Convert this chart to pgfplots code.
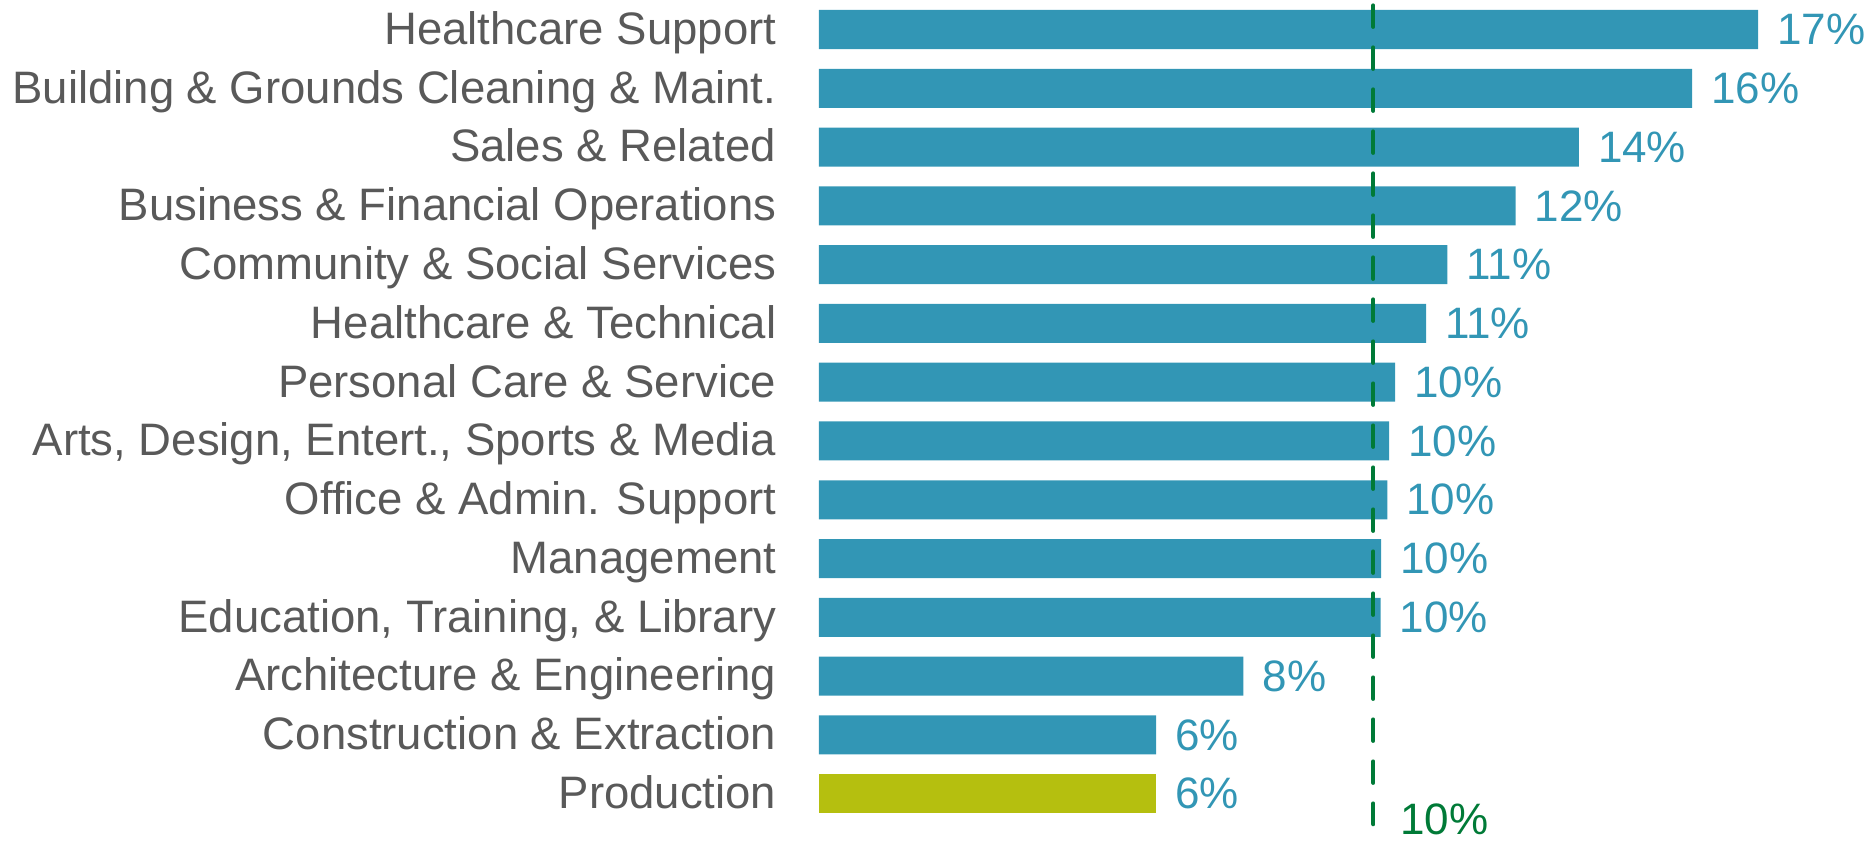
\documentclass[border=0pt]{standalone}
\usepackage{pgfplots}
\pgfplotsset{compat=1.18}
\usepackage{pgfplotstable}
\usepackage{fontspec}
\setmainfont{Liberation Sans}
\definecolor{barteal}{RGB}{50,150,181}
\definecolor{barolive}{RGB}{181,191,15}
\definecolor{avggreen}{RGB}{0,122,55}
\definecolor{labgray}{RGB}{89,89,89}

\pgfplotstableread{
idx val lab
0  16.77 17
1  15.59 16
2  13.57 14
3  12.44 12
4  11.22 11
5  10.84 11
6  10.29 10
7  10.18 10
8  10.15 10
9  10.04 10
10 10.03 10
11 7.58  8
12 6.02  6
}\maintab
\pgfplotstableread{
idx val lab
13 6.02 6
}\prodtab

\begin{document}
\begin{tikzpicture}
\begin{axis}[
  name=ax,
  scale only axis,
  width=518pt, height=412.95pt,
  xmin=0, xmax=18.5,
  ymin=-0.5, ymax=13.55,
  y dir=reverse,
  xbar, bar width=19.5pt, bar shift=0pt,
  axis line style={draw=none},
  major tick length=0pt,
  xtick=\empty,
  ytick={0,...,13},
  yticklabels={Healthcare Support, Building \& Grounds Cleaning \& Maint., Sales \& Related, Business \& Financial Operations, Community \& Social Services, Healthcare \& Technical, Personal Care \& Service, {Arts, Design, Entert., Sports \& Media}, Office \& Admin. Support, Management, {Education, Training, \& Library}, Architecture \& Engineering, Construction \& Extraction, Production},
  yticklabel style={anchor=base east, inner sep=0pt, xshift=-21.15pt, yshift=-7.4pt, font=\fontsize{22.75pt}{27pt}\selectfont, text=labgray},
  clip=false,
  point meta=explicit symbolic,
  nodes near coords={\pgfplotspointmeta\%},
  every node near coord/.append style={anchor=west, inner sep=0pt, xshift=9.35pt, font=\fontsize{22pt}{26pt}\selectfont, text=barteal},
]
\addplot[fill=barteal, draw=none] table[x=val, y=idx, meta=lab] {\maintab};
\addplot[fill=barolive, draw=none] table[x=val, y=idx, meta=lab] {\prodtab};
\addplot[xbar=false, sharp plot, nodes near coords={}, draw=avggreen, line width=2pt, dash pattern=on 10.75pt off 10.25pt, line cap=round] coordinates {(9.90,-0.41) (9.90,13.52)};
\node[anchor=base west, inner sep=0pt, text=avggreen, font=\fontsize{22pt}{26pt}\selectfont] at (axis cs:10.375,13.69) {10\%};
\end{axis}
\pgfresetboundingbox
\path[use as bounding box] (ax.south west) ++(-409.5pt,-8pt) rectangle ++(933.5pt,421pt);
\end{tikzpicture}
\end{document}
